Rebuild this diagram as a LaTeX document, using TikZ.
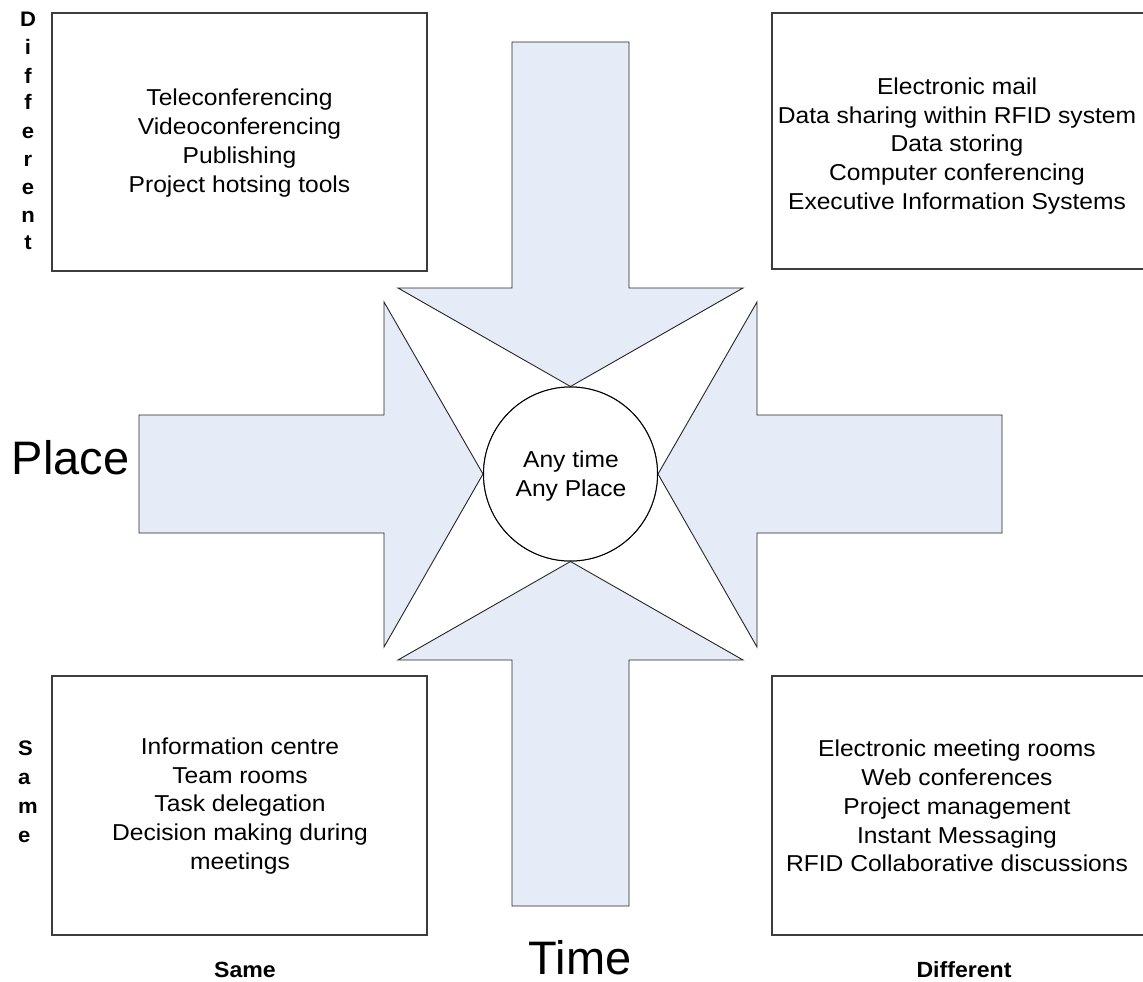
\documentclass[tikz,border=0pt]{standalone}
\usepackage{fontspec}
\setmainfont{Liberation Sans}
\newfontfamily\bodyf{Liberation Sans}[FakeStretch=1.07]
\newfontfamily\boldf{Liberation Sans Bold}[FakeStretch=1.05]
\definecolor{arrowfill}{RGB}{230,236,247}
\definecolor{boxline}{RGB}{60,60,60}
\tikzset{
  quadbox/.style={draw=boxline, line width=1.4pt, fill=white, inner sep=0pt},
  bodytext/.style={align=center, inner sep=0pt, font=\bodyf\fontsize{23}{28.8}\selectfont},
  bigarrow/.style={draw=black!85, line width=0.9pt, fill=arrowfill, line join=miter},
  vlet/.style={inner sep=0pt, font=\boldf\fontsize{21}{21}\selectfont},
  axislabel/.style={inner sep=0pt, font=\boldf\fontsize{22}{22}\selectfont, anchor=base},
  bigtext/.style={inner sep=0pt, font=\fontsize{47}{47}\selectfont, anchor=base}
}
\begin{document}
\begin{tikzpicture}[x=1pt, y=-1pt]
\clip (0,0) rectangle (1143,982);
\fill[white] (0,0) rectangle (1143,982);

% quadrant boxes
\node[quadbox, minimum width=375pt, minimum height=258pt] (tl) at (239.5,142) {};
\node[quadbox, minimum width=380pt, minimum height=256pt] (tr) at (962,141) {};
\node[quadbox, minimum width=375pt, minimum height=259pt] (bl) at (239.5,805.5) {};
\node[quadbox, minimum width=380pt, minimum height=259pt] (br) at (962,805.5) {};

% centre circle
\node[circle, draw=black, line width=1pt, minimum size=174pt, inner sep=0pt] (hub) at (570.5,474) {};

% four block arrows pointing at the hub
\draw[bigarrow] (512,42) -- (629,42) -- (629,288) -- (743,288) -- (hub.north) -- (398,288) -- (512,288) -- cycle;
\draw[bigarrow] (512,906) -- (629,906) -- (629,660) -- (743,660) -- (hub.south) -- (398,660) -- (512,660) -- cycle;
\draw[bigarrow] (139,415) -- (384,415) -- (384,302) -- (hub.west) -- (384,647) -- (384,533) -- (139,533) -- cycle;
\draw[bigarrow] (1002,415) -- (757,415) -- (757,302) -- (hub.east) -- (757,647) -- (757,533) -- (1002,533) -- cycle;

% redraw circle on top
\node[circle, draw=black, line width=1pt, fill=white, minimum size=174pt, inner sep=0pt] (hubtop) at (570.5,474) {};
\node[bodytext] (hubtxt) at (571,476) {Any time\\Any Place};

% box texts
\node[bodytext] (tltxt) at (239.5,143) {Teleconferencing\\Videoconferencing\\Publishing\\Project hotsing tools};
\node[bodytext] (trtxt) at (957,146) {Electronic mail\\Data sharing within RFID system\\Data storing\\Computer conferencing\\Executive Information Systems};
\node[bodytext] (bltxt) at (240,806) {Information centre\\Team rooms\\Task delegation\\Decision making during\\meetings};
\node[bodytext] (brtxt) at (957,806) {Electronic meeting rooms\\Web conferences\\Project management\\Instant Messaging\\RFID Collaborative discussions};

% axis labels
\node[bigtext] (place) at (70.5,474) {Place};
\node[bigtext] (time) at (580,974) {Time};
\node[axislabel] (same) at (245,977) {Same};
\node[axislabel] (diff) at (964,977) {Different};

% vertical "Different"
\node[vlet, anchor=base] (d1) at (28,27) {D};
\node[vlet, anchor=base] (d2) at (28,55) {i};
\node[vlet, anchor=base] (d3) at (28,83) {f};
\node[vlet, anchor=base] (d4) at (28,110) {f};
\node[vlet, anchor=base] (d5) at (28,138) {e};
\node[vlet, anchor=base] (d6) at (28,166) {r};
\node[vlet, anchor=base] (d7) at (28,194) {e};
\node[vlet, anchor=base] (d8) at (28,222) {n};
\node[vlet, anchor=base] (d9) at (28,249) {t};

% vertical "Same"
\node[vlet, anchor=base west] (s1) at (18,755) {S};
\node[vlet, anchor=base west] (s2) at (18,784) {a};
\node[vlet, anchor=base west] (s3) at (18,813) {m};
\node[vlet, anchor=base west] (s4) at (18,842) {e};
\end{tikzpicture}
\end{document}
